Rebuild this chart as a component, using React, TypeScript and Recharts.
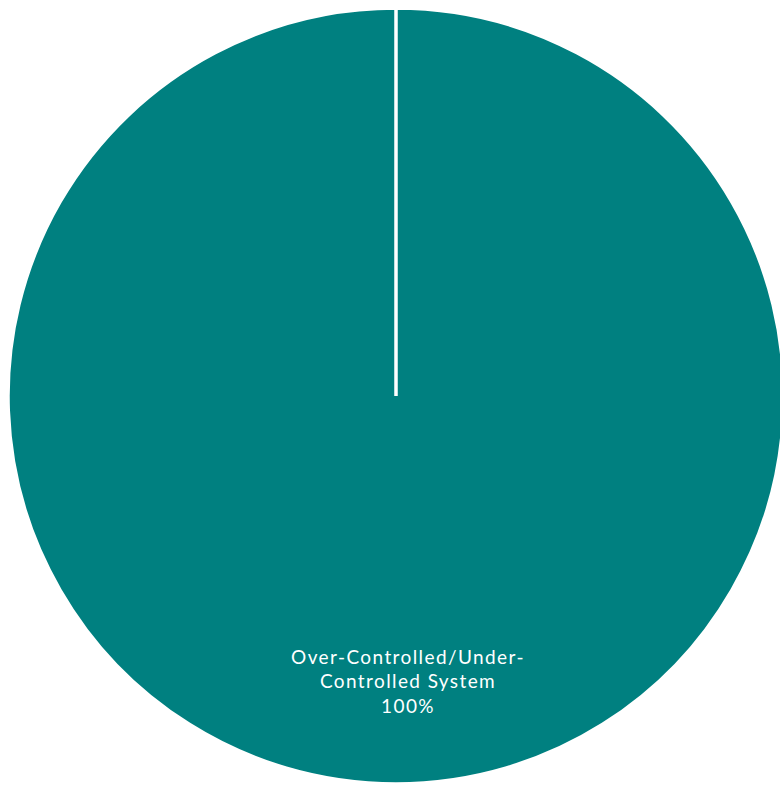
import React from 'react';
import { PieChart, Pie, Cell } from 'recharts';

const categories = ['Over-Controlled/Under-Controlled System'];
const values = [100];
const labelLines = [['Over-Controlled/Under-', 'Controlled System']];
const colors = ['#008080'];

const data = categories.map((name, i) => ({ name, value: values[i] }));

const RADIAN = Math.PI / 180;

const renderLabel = (props: any) => {
  const { cx, cy, midAngle, outerRadius, index, percent } = props;
  const r = outerRadius * 0.745;
  const x = cx + r * Math.cos(-midAngle * RADIAN) + 12;
  const y = cy + r * Math.sin(-midAngle * RADIAN);
  const lines = [...labelLines[index], `${Math.round(percent * 100)}%`];
  const lh = 24.5;
  const y0 = y - ((lines.length - 1) * lh) / 2 + 3;
  return (
    <text
      x={x}
      y={y0}
      fill="#ffffff"
      textAnchor="middle"
      fontFamily="Lato, 'Noto Sans', sans-serif"
      fontSize={19}
      letterSpacing={1.4}
    >
      {lines.map((l, i) => (
        <tspan key={i} x={x} y={y0 + i * lh}>
          {l}
        </tspan>
      ))}
    </text>
  );
};

const App: React.FC = () => {
  return (
    <div
      style={{
        position: 'absolute',
        left: 0,
        top: 0,
        width: 780,
        height: 785,
        overflow: 'hidden',
        background: '#fff',
      }}
    >
      <PieChart width={780} height={785} margin={{ top: 0, right: 0, bottom: 0, left: 0 }}>
        <Pie
          data={data}
          dataKey="value"
          nameKey="name"
          cx={396}
          cy={396}
          outerRadius={388}
          startAngle={90}
          endAngle={-270}
          stroke="#ffffff"
          strokeWidth={3.5}
          label={renderLabel}
          labelLine={false}
          isAnimationActive={false}
        >
          {data.map((d, i) => (
            <Cell key={d.name} fill={colors[i]} />
          ))}
        </Pie>
      </PieChart>
    </div>
  );
};

export default App;
